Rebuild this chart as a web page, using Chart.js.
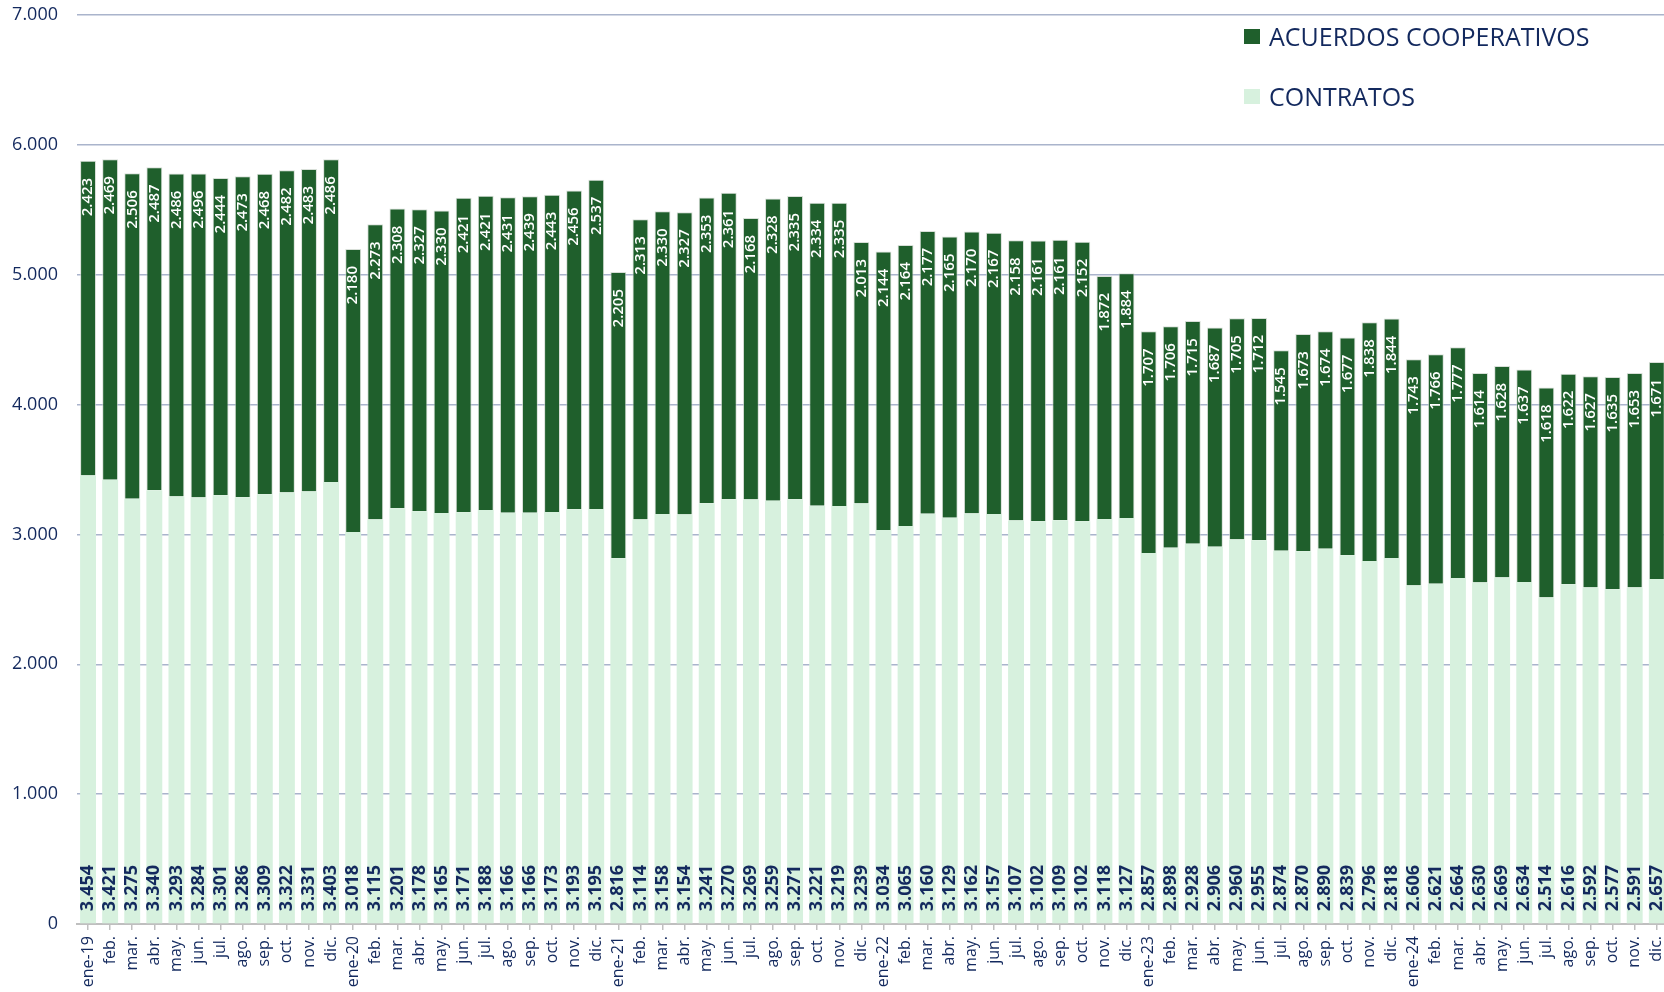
<!DOCTYPE html>
<html>
<head>
<meta charset="utf-8">
<script src="https://cdn.jsdelivr.net/npm/chart.js@4.4.1/dist/chart.umd.min.js"></script>
<style>
  html, body { margin: 0; padding: 0; background: #fff; overflow: hidden; }
  #wrap { position: relative; width: 1664px; height: 992px; overflow: hidden; }
  #leyenda { position: absolute; left: 1244px; top: 19px; font-family: "Open Sans", sans-serif; font-size: 25px; color: #13295e; }
  #leyenda div { height: 60px; display: flex; align-items: flex-start; }
  #leyenda span.cuadro { display: inline-block; width: 16px; height: 15px; margin: 10px 9px 0 0; }
</style>
</head>
<body>
<div id="wrap">
  <canvas id="grafico" width="1682" height="992"></canvas>
  <div id="leyenda"></div>
</div>
<script>
const meses = ['ene-19', 'feb.', 'mar.', 'abr.', 'may.', 'jun.', 'jul.', 'ago.', 'sep.', 'oct.', 'nov.', 'dic.',
  'ene-20', 'feb.', 'mar.', 'abr.', 'may.', 'jun.', 'jul.', 'ago.', 'sep.', 'oct.', 'nov.', 'dic.',
  'ene-21', 'feb.', 'mar.', 'abr.', 'may.', 'jun.', 'jul.', 'ago.', 'sep.', 'oct.', 'nov.', 'dic.',
  'ene-22', 'feb.', 'mar.', 'abr.', 'may.', 'jun.', 'jul.', 'ago.', 'sep.', 'oct.', 'nov.', 'dic.',
  'ene-23', 'feb.', 'mar.', 'abr.', 'may.', 'jun.', 'jul.', 'ago.', 'sep.', 'oct.', 'nov.', 'dic.',
  'ene-24', 'feb.', 'mar.', 'abr.', 'may.', 'jun.', 'jul.', 'ago.', 'sep.', 'oct.', 'nov.', 'dic.'];

const contratos = [3454, 3421, 3275, 3340, 3293, 3284, 3301, 3286, 3309, 3322, 3331, 3403,
  3018, 3115, 3201, 3178, 3165, 3171, 3188, 3166, 3166, 3173, 3193, 3195,
  2816, 3114, 3158, 3154, 3241, 3270, 3269, 3259, 3271, 3221, 3219, 3239,
  3034, 3065, 3160, 3129, 3162, 3157, 3107, 3102, 3109, 3102, 3118, 3127,
  2857, 2898, 2928, 2906, 2960, 2955, 2874, 2870, 2890, 2839, 2796, 2818,
  2606, 2621, 2664, 2630, 2669, 2634, 2514, 2616, 2592, 2577, 2591, 2657];

const acuerdos = [2423, 2469, 2506, 2487, 2486, 2496, 2444, 2473, 2468, 2482, 2483, 2486,
  2180, 2273, 2308, 2327, 2330, 2421, 2421, 2431, 2439, 2443, 2456, 2537,
  2205, 2313, 2330, 2327, 2353, 2361, 2168, 2328, 2335, 2334, 2335, 2013,
  2144, 2164, 2177, 2165, 2170, 2167, 2158, 2161, 2161, 2152, 1872, 1884,
  1707, 1706, 1715, 1687, 1705, 1712, 1545, 1673, 1674, 1677, 1838, 1844,
  1743, 1766, 1777, 1614, 1628, 1637, 1618, 1622, 1627, 1635, 1653, 1671];

const ticksY = [0, 1000, 2000, 3000, 4000, 5000, 6000, 7000];

const azul = '#13295e';
const verdeOscuro = '#1f5f2c';
const verdeClaro = '#d7f1de';

// 3454 -> "3.454"
const miles = (n) => String(n).replace(/\B(?=(\d{3})+(?!\d))/g, '.');

// etiquetas de valor dentro de las barras
const etiquetas = {
  id: 'etiquetas',
  afterDatasetsDraw(chart) {
    const ctx = chart.ctx;
    chart.data.datasets.forEach((ds, i) => {
      const meta = chart.getDatasetMeta(i);
      meta.data.forEach((bar, j) => {
        ctx.save();
        ctx.textBaseline = 'middle';
        if (i === 0) {
          ctx.translate(bar.x, bar.base - 12);
          ctx.rotate(-Math.PI / 2);
          ctx.textAlign = 'left';
          ctx.font = 'bold 18px "Open Sans"';
          ctx.fillStyle = azul;
        } else {
          ctx.translate(bar.x, bar.y + 17);
          ctx.rotate(-Math.PI / 2);
          ctx.textAlign = 'right';
          ctx.font = '600 15px "Open Sans"';
          ctx.fillStyle = '#ffffff';
        }
        ctx.fillText(miles(ds.data[j]), 0, 0);
        ctx.restore();
      });
    });
  }
};

const grafico = new Chart(document.getElementById('grafico'), {
  type: 'bar',
  data: {
    labels: meses,
    datasets: [
      { label: 'CONTRATOS', data: contratos, backgroundColor: verdeClaro, borderWidth: 0 },
      { label: 'ACUERDOS COOPERATIVOS', data: acuerdos, backgroundColor: verdeOscuro,
        borderColor: 'rgba(200,210,200,0.7)', borderWidth: 1 }
    ]
  },
  options: {
    responsive: false,
    animation: false,
    layout: { padding: { top: 15, right: 0, left: 0, bottom: 0 } },
    datasets: { bar: { barPercentage: 0.72, categoryPercentage: 1 } },
    plugins: { legend: { display: false }, tooltip: { enabled: false } },
    scales: {
      x: {
        stacked: true,
        grid: { drawOnChartArea: false, offset: false, tickLength: 6, color: '#bfbfbf', lineWidth: 1.5 },
        border: { color: '#bfbfbf', width: 2 },
        ticks: {
          autoSkip: false, minRotation: 90, maxRotation: 90, padding: 6,
          color: azul, font: { family: 'Open Sans', size: 16 }
        },
        afterFit: (s) => { s.height = 68; s.paddingTop = 0; s.paddingBottom = 0; }
      },
      y: {
        stacked: true,
        min: 0,
        max: 7000,
        afterBuildTicks: (s) => { s.ticks = ticksY.map(v => ({ value: v })); },
        grid: {
          drawTicks: false, lineWidth: 1.5,
          color: (c) => c.tick && c.tick.value === 0 ? 'rgba(0,0,0,0)' : '#aab4cc'
        },
        border: { display: false },
        ticks: {
          padding: 19, color: azul, font: { family: 'Open Sans', size: 18 },
          callback: (v) => miles(v)
        },
        afterFit: (s) => { s.width = 77; s.paddingTop = 0; s.paddingBottom = 0; }
      }
    }
  },
  plugins: [etiquetas]
});

// leyenda en HTML, arriba a la derecha
const leyenda = document.getElementById('leyenda');
[1, 0].forEach((i) => {
  const ds = grafico.data.datasets[i];
  const fila = document.createElement('div');
  fila.innerHTML = '<span class="cuadro" style="background:' + ds.backgroundColor + '"></span>' + ds.label;
  leyenda.appendChild(fila);
});
</script>
</body>
</html>
